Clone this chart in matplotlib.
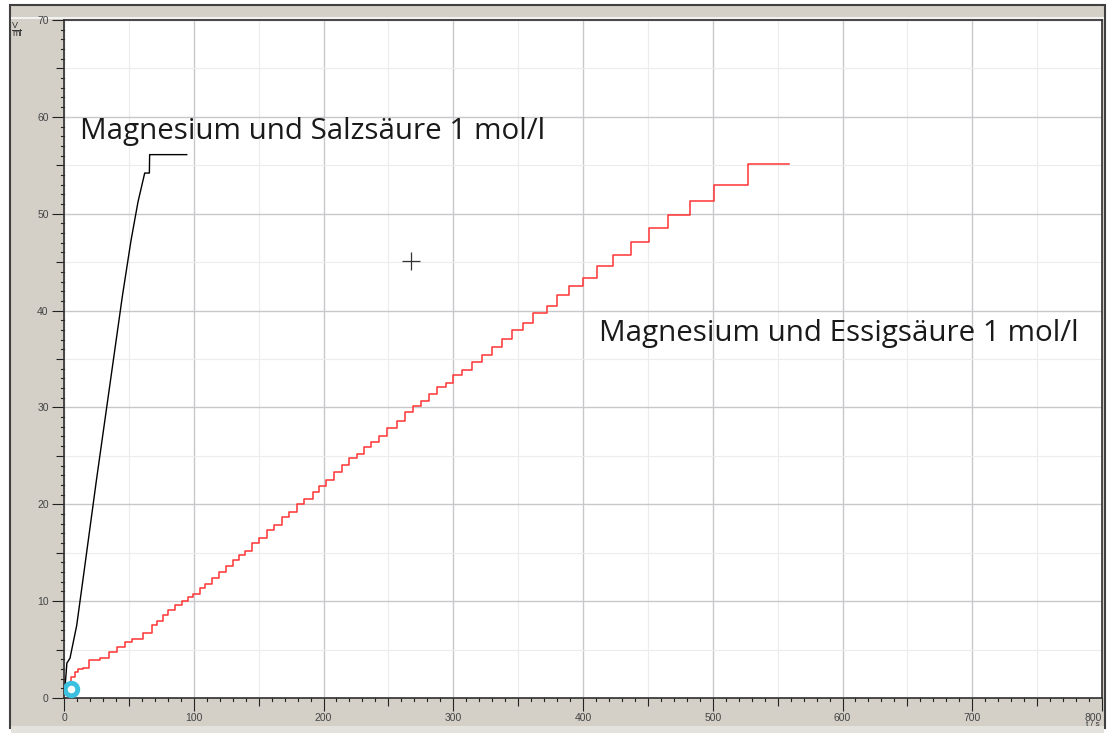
import matplotlib.pyplot as plt
from matplotlib.patches import Rectangle
from matplotlib.lines import Line2D
from matplotlib.ticker import MultipleLocator

# Magnesium + HCl 1 mol/l (black curve)
t_hcl = [0, 1.0, 2.0, 2.2, 4.6, 9.8, 15.4, 25.0, 35.0, 45.0, 51.6, 57.0, 62.2, 65.8, 66.0, 94.6]
v_hcl = [0.9, 1.5, 3.2, 3.6, 4.1, 7.5, 13.0, 22.5, 32.0, 41.5, 47.2, 51.2, 54.2, 54.2, 56.1, 56.1]

# Magnesium + acetic acid 1 mol/l (red staircase), value holds until next time
t_ac = [0, 5.4, 8.5, 11.0, 14.9, 19.5, 27.7, 34.9, 40.6, 47.0,
        52.2, 61.1, 67.6, 71.4, 76.5, 80.4, 85.5, 90.7, 95.8, 99.7,
        104.5, 108.7, 113.8, 119.7, 124.9, 130.0, 135.1, 139.5, 144.7, 150.5,
        156.7, 161.9, 167.8, 173.6, 179.8, 185.0, 191.7, 196.8, 201.9, 208.1,
        214.0, 219.9, 225.6, 231.2, 236.4, 243.0, 249.2, 256.9, 262.8, 268.7,
        274.9, 281.6, 287.2, 294.4, 300.1, 306.5, 314.2, 321.9, 329.6, 337.3,
        345.0, 353.5, 361.7, 372.0, 380.2, 389.5, 399.7, 410.5, 423.4, 437.0,
        450.9, 465.8, 482.5, 501.0, 526.9, 559.0]
v_ac = [0, 2.2, 2.7, 3.0, 3.1, 3.9, 4.1, 4.8, 5.3, 5.8,
        6.1, 6.7, 7.5, 7.9, 8.6, 9.1, 9.6, 10.0, 10.45, 10.7,
        11.4, 11.8, 12.4, 13.0, 13.6, 14.25, 14.8, 15.2, 16.0, 16.5,
        17.3, 17.9, 18.7, 19.2, 20.0, 20.5, 21.25, 21.9, 22.5, 23.3,
        24.1, 24.8, 25.2, 25.9, 26.4, 27.1, 27.9, 28.6, 29.5, 30.1,
        30.7, 31.4, 32.1, 32.5, 33.3, 33.9, 34.7, 35.4, 36.2, 37.1,
        37.96, 38.75, 39.7, 40.5, 41.6, 42.5, 43.4, 44.6, 45.7, 47.1,
        48.5, 49.9, 51.3, 53.0, 55.1, 55.1]

x_ticks = [0, 100, 200, 300, 400, 500, 600, 700, 800]
y_ticks = [0, 10, 20, 30, 40, 50, 60, 70]

label_hcl = "Magnesium und Salzsäure 1 mol/l"
label_ac = "Magnesium und Essigsäure 1 mol/l"

W, H = 1109, 733
fig = plt.figure(figsize=(W / 100, H / 100), dpi=100)
fig.patch.set_facecolor("white")

def px(x, y, w, h):
    # pixel box (top-left origin) -> figure fraction
    return (x / W, 1 - (y + h) / H, w / W, h / H)

# window-like gray frame, kept behind the axes
for box, fc, ec in [((10, 5, 1095, 723), "#d4d0c8", "#404040"),
                    ((11, 17, 1093, 1.5), "#f2f2f2", "none"),
                    ((11, 726, 1093, 7), "#e4e2dc", "none")]:
    x0, y0, w0, h0 = px(*box)
    fig.patches.append(Rectangle((x0, y0), w0, h0, transform=fig.transFigure,
                                 facecolor=fc, edgecolor=ec, lw=1.5, zorder=-10))

ax = fig.add_axes(px(64, 20, 1038, 678))
ax.set_facecolor("white")
ax.set_xlim(0, 800)
ax.set_ylim(0, 70)

ax.xaxis.set_major_locator(MultipleLocator(50))
ax.xaxis.set_minor_locator(MultipleLocator(10))
ax.yaxis.set_major_locator(MultipleLocator(5))
ax.yaxis.set_minor_locator(MultipleLocator(1))
ax.grid(which="minor", color="#ececec", lw=0.8)
ax.grid(which="major", color="#c8c8cc", lw=1.0)
ax.set_axisbelow(True)

# labelled ticks every 100 s / 10 ml, medium ticks in between
ax.set_xticks(x_ticks, minor=False)
ax.set_xticks([t for t in range(50, 800, 100)], minor=True)
ax.set_yticks(y_ticks, minor=False)
ax.set_yticks([v for v in range(5, 70, 10)], minor=True)
ax.tick_params(which="major", direction="out", length=9, width=0.8, color="#222222",
               labelsize=7.5, labelcolor="#444444", pad=2)
ax.tick_params(which="minor", direction="out", length=6, width=0.8, color="#222222")
ax.set_xticklabels([str(t) for t in x_ticks], family="Liberation Sans")
ax.set_yticklabels([str(v) for v in y_ticks], family="Liberation Sans")
ax.xaxis.get_major_ticks()[-1].label1.set_horizontalalignment("right")

# small 1-unit / 10-second ticks drawn as extra lines
for t in range(0, 801, 10):
    if t % 50:
        ax.plot([t, t], [0, -0.3], color="#222222", lw=0.8, clip_on=False)
for v in range(0, 71):
    if v % 5:
        ax.plot([0, -2.5], [v, v], color="#222222", lw=0.8, clip_on=False)

for s in ax.spines.values():
    s.set_color("#303030")
    s.set_linewidth(1.2)

ax.plot(t_hcl, v_hcl, color="black", lw=1.0)
ax.plot(t_ac, v_ac, color="#ff3333", lw=1.1, drawstyle="steps-post")

ax.plot([5.4], [0.9], marker="o", ms=9, mfc="white", mec="#3cc0e0", mew=3.5, zorder=5)
ax.plot([267.4], [45.1], marker="+", ms=13, color="#333333", mew=0.9)

ax.text(12, 58.5, label_hcl, fontsize=21.3, family="Open Sans", color="#1a1a1a",
        va="center", ha="left")
ax.text(412, 37.6, label_ac, fontsize=21.3, family="Open Sans", color="#1a1a1a",
        va="center", ha="left")

# axis unit labels in the corners
fig.text(12 / W, 1 - 25 / H, "V", fontsize=6.5, family="Liberation Sans", color="#333333", va="center")
fig.lines.append(Line2D([12 / W, 21 / W], [1 - 29.5 / H, 1 - 29.5 / H],
                        transform=fig.transFigure, color="#333333", lw=0.7))
fig.text(12 / W, 1 - 34 / H, "ml", fontsize=6.5, family="Liberation Sans", color="#333333", va="center")
fig.text(1100 / W, 1 - 725 / H, "t / s", fontsize=6, family="Liberation Sans", color="#333333",
         va="center", ha="right")

fig.savefig("out.png", dpi=100)
